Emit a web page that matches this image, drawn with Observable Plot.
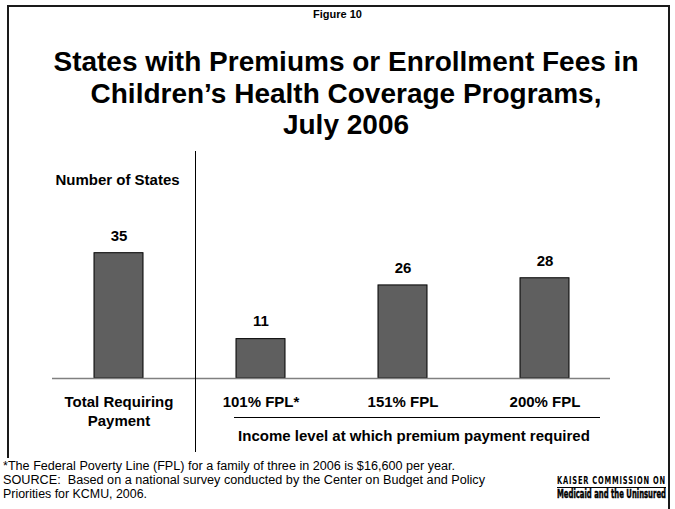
<!DOCTYPE html>
<html>
<head>
<meta charset="utf-8">
<script src="https://cdn.jsdelivr.net/npm/d3@7"></script>
<script src="https://cdn.jsdelivr.net/npm/@observablehq/plot@0.6"></script>
<style>
  html, body { margin: 0; padding: 0; background: #fff; }
  #page { position: relative; width: 675px; height: 509px; overflow: hidden; font-family: "Liberation Sans", Arial, sans-serif; color: #000; }
  .abs { position: absolute; white-space: nowrap; line-height: 1; }
  #frame { position: absolute; left: 7px; top: 5px; width: 663px; height: 560px; border: 2px solid #1a1a1a; box-sizing: border-box; }
  #chart { position: absolute; left: 0; top: 150px; }
  .fit { display: inline-block; transform-origin: 0 0; }
</style>
</head>
<body>
<div id="page">
  <div id="frame"></div>
  <div class="abs" style="left:0;width:675px;text-align:center;top:8.5px;font-size:11px;font-weight:bold;">Figure 10</div>
  <div class="abs" style="left:0;width:692px;text-align:center;top:46.2px;font-size:28px;font-weight:bold;line-height:31.6px;white-space:normal;">States with Premiums or Enrollment Fees in<br>Children’s Health Coverage Programs,<br>July 2006</div>
  <div id="chart"></div>
  <div class="abs" style="left:195px;top:151px;width:1px;height:301px;background:#000;"></div>
  <div class="abs" style="left:234px;top:417px;width:366px;height:1px;background:#000;"></div>
  <div class="abs" style="left:17.5px;width:200px;text-align:center;top:172.3px;font-size:15px;font-weight:bold;">Number of States</div>
  <div class="abs" style="left:214px;width:400px;text-align:center;top:428.3px;font-size:15px;font-weight:bold;">Income level at which premium payment required</div>
  <div class="abs" style="left:0;top:458px;width:552px;height:51px;background:#fff;"></div>
  <div class="abs" style="left:3px;top:460.4px;font-size:12.5px;"><span class="fit" data-w="452">*The Federal Poverty Line (FPL) for a family of three in 2006 is $16,600 per year.</span></div>
  <div class="abs" style="left:3px;top:474.4px;font-size:12.5px;"><span class="fit" data-w="482">SOURCE:&nbsp; Based on a national survey conducted by the Center on Budget and Policy</span></div>
  <div class="abs" style="left:3px;top:488.4px;font-size:12.5px;"><span class="fit" data-w="144">Priorities for KCMU, 2006.</span></div>
  <div class="abs" style="left:557px;top:476px;font-size:10px;font-weight:bold;letter-spacing:1.2px;font-family:'DejaVu Sans', sans-serif;"><span class="fit" data-w="109">KAISER COMMISSION ON</span></div>
  <div class="abs" style="left:557px;top:486.5px;width:109px;height:1px;background:#000;"></div>
  <div class="abs" style="left:557px;top:487.5px;font-size:12.5px;font-weight:bold;font-family:'DejaVu Sans', sans-serif;-webkit-text-stroke:0.5px #000;"><span class="fit" data-w="109">Medicaid and the Uninsured</span></div>
</div>
<script>
const categories = ["Total Requiring\nPayment", "101% FPL*", "151% FPL", "200% FPL"];
const values = [35, 11, 26, 28];

const data = categories.map((c, i) => ({cat: c, value: values[i]}));

const chart = Plot.plot({
  width: 675,
  height: 310,
  marginLeft: 0,
  marginRight: 12,
  marginTop: 84.8,
  marginBottom: 82,
  style: {fontFamily: "Liberation Sans, Arial, sans-serif", background: "transparent", overflow: "visible"},
  x: {domain: categories, padding: 0.6526, axis: null},
  y: {domain: [0, 40], axis: null},
  marks: [
    Plot.barY(data, {x: "cat", y: "value", fill: "#5f5f5f", stroke: "#000", strokeWidth: 1}),
    Plot.ruleY([0], {stroke: "#808080", strokeWidth: 1.6, insetLeft: 52, insetRight: 53}),
    Plot.text(data, {x: "cat", y: "value", text: d => String(d.value), dy: -17.5, fontSize: 15, fontWeight: "bold", fill: "#000"}),
    Plot.text(data, {x: "cat", y: d => 0, text: "cat", lineAnchor: "top", dy: 15.3, lineHeight: 1.27, fontSize: 15, fontWeight: "bold", fill: "#000"})
  ]
});
document.getElementById("chart").appendChild(chart);

document.querySelectorAll(".fit").forEach(el => {
  const w = el.getBoundingClientRect().width;
  const target = +el.dataset.w;
  if (w > 0) el.style.transform = `scaleX(${target / w})`;
});
</script>
</body>
</html>
